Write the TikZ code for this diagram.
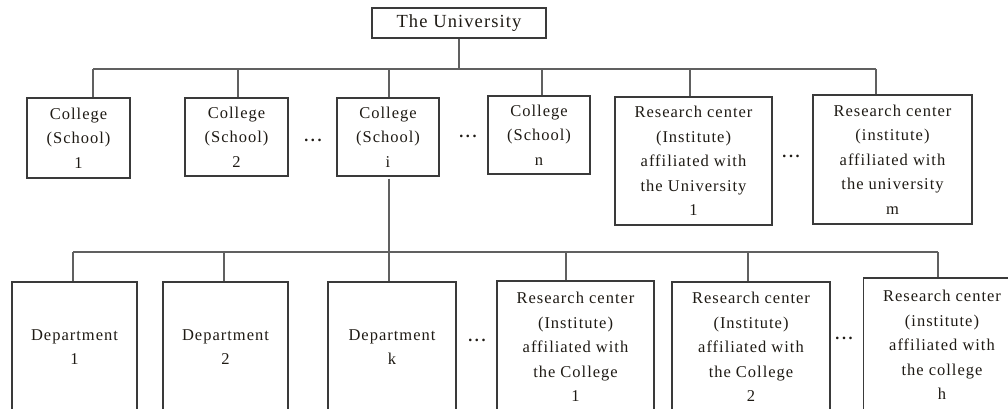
\documentclass[tikz,border=0pt]{standalone}
\usepackage{fontspec}
\setmainfont[LetterSpace=6]{Liberation Serif}
\usepackage{tikz}

\definecolor{linegray}{HTML}{606060}
\definecolor{boxgray}{HTML}{3A3A3A}
\definecolor{textdark}{HTML}{1E1A14}

\tikzset{
  unit/.style={draw=boxgray,line width=1.3pt,align=center,inner sep=0pt,
               text=textdark,font=\fontsize{16.5}{24.5}\selectfont},
  link/.style={draw=linegray,line width=1.5pt},
  gap/.style={text=textdark,font=\fontsize{16}{20}\selectfont\bfseries}
}

\begin{document}
\begin{tikzpicture}[x=1pt,y=-1pt]
\useasboundingbox (0,0) rectangle (1008,408);
\clip (0,0) rectangle (1008,408);

\node[unit,minimum width=174,minimum height=30,font=\fontsize{18.5}{20}\selectfont] (uni) at (459,23) {The University};

\node[unit,minimum width=103,minimum height=80] (col1) at (78.5,138) {College\\(School)\\1};
\node[unit,minimum width=103,minimum height=78] (col2) at (236.5,137) {College\\(School)\\2};
\node[unit,minimum width=102,minimum height=78] (coli) at (388,137) {College\\(School)\\i};
\node[unit,minimum width=102,minimum height=78] (coln) at (539,135) {College\\(School)\\n};
\node[unit,minimum width=157,minimum height=128] (ru1) at (693.5,161) {Research center\\(Institute)\\affiliated with\\the University\\1};
\node[unit,minimum width=159,minimum height=129] (rum) at (892.5,159.5) {Research center\\(institute)\\affiliated with\\the university\\m};

\node[gap] (dotsa) at (313,140) {.\,.\,.};
\node[gap] (dotsb) at (468,136) {.\,.\,.};
\node[gap] (dotsc) at (791,156) {.\,.\,.};

\node[unit,minimum width=125,minimum height=130] (dep1) at (74.5,347) {Department\\1};
\node[unit,minimum width=125,minimum height=130] (dep2) at (225.5,347) {Department\\2};
\node[unit,minimum width=128,minimum height=130] (depk) at (392,347) {Department\\k};
\node[unit,minimum width=157,minimum height=132] (rc1) at (575.5,347) {Research center\\(Institute)\\affiliated with\\the College\\1};
\node[unit,minimum width=158,minimum height=130] (rc2) at (751,347) {Research center\\(Institute)\\affiliated with\\the College\\2};
\node[unit,minimum width=157,minimum height=134] (rch) at (942,345) {Research center\\(institute)\\affiliated with\\the college\\h};

\node[gap] (dotsd) at (477,340) {.\,.\,.};
\node[gap] (dotse) at (844,338) {.\,.\,.};

% upper bus
\coordinate (ua) at (459,69);
\coordinate (u1) at (93,69);
\coordinate (u2) at (238,69);
\coordinate (u3) at (389,69);
\coordinate (u4) at (542,69);
\coordinate (u5) at (690,69);
\coordinate (u6) at (876,69);
\draw[link] (uni) -- (ua);
\draw[link] (u1) -- (u6);
\draw[link] (u1) -- (u1 |- col1.north);
\draw[link] (u2) -- (u2 |- col2.north);
\draw[link] (u3) -- (u3 |- coli.north);
\draw[link] (u4) -- (u4 |- coln.north);
\draw[link] (u5) -- (u5 |- ru1.north);
\draw[link] (u6) -- (u6 |- rum.north);

% lower bus
\coordinate (la) at (389,252);
\coordinate (l1) at (73,252);
\coordinate (l2) at (224,252);
\coordinate (l4) at (566,252);
\coordinate (l5) at (748,252);
\coordinate (l6) at (938,252);
\draw[link] (la |- coli.south) ++(0,2) -- (la |- depk.north);
\draw[link] (l1) -- (l6);
\draw[link] (l1) -- (l1 |- dep1.north);
\draw[link] (l2) -- (l2 |- dep2.north);
\draw[link] (l4) -- (l4 |- rc1.north);
\draw[link] (l5) -- (l5 |- rc2.north);
\draw[link] (l6) -- (l6 |- rch.north);
\end{tikzpicture}
\end{document}
